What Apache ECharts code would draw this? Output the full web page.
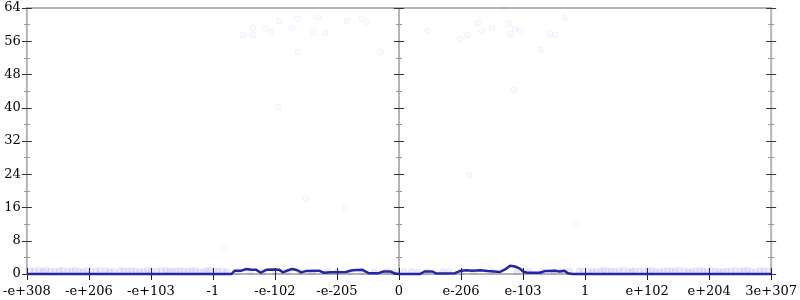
<!DOCTYPE html>
<html><head><meta charset="utf-8">
<script src="https://cdn.jsdelivr.net/npm/echarts@6/dist/echarts.min.js"></script>
<style>html,body{margin:0;padding:0;background:#fff}#c{width:800px;height:300px}</style>
</head><body><div id="c"></div>
<script>
// x positions are in tick units: 0 = -e+308 ... 6 = 0 ... 12 = 3e+307
const tickLabels = ['-e+308','-e+206','-e+103','-1','-e-102','-e-205','0','e-206','e-103','1','e+102','e+204','3e+307'];

// histogram outline (count per bin)
const lineX = [0,3.30,3.35,3.46,3.54,3.62,3.70,3.77,3.86,3.97,4.07,4.13,4.21,4.28,4.36,4.42,4.50,4.71,4.79,4.90,5.14,5.25,5.41,5.51,5.67,5.75,5.86,5.94,6.0,
               6.34,6.41,6.54,6.60,6.90,6.98,7.08,7.18,7.31,7.43,7.63,7.71,7.79,7.87,7.95,8.0,8.06,8.27,8.35,8.52,8.59,8.67,8.72,8.80,12];
const lineY = [0,0,0.8,0.8,1.2,1.0,1.0,0.3,1.0,1.1,1.0,0.4,0.9,1.2,0.9,0.4,0.7,0.8,0.3,0.4,0.5,0.9,1.0,0.2,0.2,0.6,0.6,0.1,0,
               0,0.6,0.6,0.1,0.2,0.7,0.9,0.8,0.9,0.7,0.5,1.1,2.0,1.8,1.3,0.6,0.3,0.3,0.7,0.8,0.6,0.8,0.2,0,0];

// faint sample points (high ones)
const highX = [3.48,3.64,3.65,3.86,3.94,4.07,4.28,4.36,4.37,4.63,4.69,4.81,5.16,5.40,5.48,5.70,
               6.46,6.98,7.10,7.27,7.34,7.50,7.69,7.77,7.80,7.87,7.96,8.28,8.43,8.52,8.67,7.85,
               4.05,4.50,5.14,7.13,3.17,8.86];
const highY = [57.5,59.2,57.5,59,58.2,60.9,59.2,61.4,53.4,58.2,61.8,58,60.9,61.4,60.6,53.4,
               58.5,56.5,57.5,60.4,58.5,59.2,64,60.2,57.7,59,58.5,53.9,57.7,57.5,61.6,44.3,
               40.2,18.1,15.9,23.8,6.3,12.3];
// faint sample points near zero
const lowX = [0.05,0.12,0.2,0.26,0.31,0.38,0.45,0.52,0.58,0.66,0.72,0.78,0.84,0.9,0.97,1.03,1.12,1.18,1.27,1.33,1.4,1.5,1.56,1.63,1.69,1.75,1.82,1.88,1.94,2.0,2.1,2.17,2.24,2.3,2.35,2.41,2.47,2.53,2.6,2.66,2.72,2.78,2.85,2.9,2.95,3.02,3.08,3.15,3.22,3.4,3.6,3.8,4.0,4.2,4.4,4.6,4.85,5.0,5.2,5.4,5.6,5.8,5.92,
              6.08,6.2,6.3,6.45,6.7,6.8,7.0,7.2,7.5,7.9,8.1,8.3,8.5,8.62,8.75,8.9,8.97,9.05,9.12,9.18,9.25,9.3,9.36,9.42,9.48,9.55,9.62,9.7,9.75,9.8,9.88,9.95,10.02,10.08,10.14,10.2,10.27,10.33,10.39,10.45,10.52,10.6,10.66,10.72,10.78,10.85,10.9,10.97,11.03,11.1,11.16,11.22,11.28,11.35,11.42,11.5,11.56,11.62,11.68,11.75,11.82,11.88,11.95];
const lowY = [0.8,0.7,0.9,0.6,0.9,0.7,0.6,0.8,0.9,0.7,0.8,0.9,0.6,0.6,0.8,0.8,0.7,0.9,0.8,0.6,0.6,0.9,0.7,0.7,0.8,0.8,0.6,0.6,0.9,0.8,0.7,0.8,0.9,0.7,0.6,0.8,0.8,0.7,0.7,0.9,0.8,0.6,0.6,0.8,0.9,0.7,0.7,0.8,0.6,0.5,0.5,0.4,0.4,0.5,0.5,0.4,0.6,0.5,0.4,0.6,0.5,0.6,0.5,
              0.6,0.6,0.5,0.5,0.6,0.6,0.5,0.5,0.6,0.4,0.6,0.5,0.5,0.6,0.7,0.7,0.8,0.8,0.6,0.6,0.7,0.9,0.8,0.7,0.6,0.8,0.9,0.6,0.7,0.8,0.7,0.7,0.8,0.9,0.6,0.6,0.8,0.8,0.7,0.7,0.9,0.8,0.6,0.6,0.8,0.9,0.7,0.7,0.8,0.8,0.6,0.6,0.7,0.8,0.9,0.7,0.8,0.9,0.6,0.6,0.8,0.8,0.7];

const FONT = 'DejaVu Serif';
function half(xs, ys, lo, hi){
  const out=[]; for(let i=0;i<xs.length;i++){ if(xs[i]>=lo && xs[i]<=hi) out.push([xs[i],ys[i]]); } return out;
}
function xAx(grid, lo, hi, inside, labels){
  return {type:'value', gridIndex:grid, min:lo, max:hi, interval:1, position:'bottom',
    axisLine:{show:false}, splitLine:{show:false},
    axisTick:{show:true, inside:inside, length:6, lineStyle:{color:'#222', width:1}},
    axisLabel:{show:labels, margin:11, fontFamily:FONT, fontSize:13, color:'#000',
      showMinLabel: grid===0, showMaxLabel:true,
      formatter:v=>tickLabels[Math.round(v)]}};
}
function yAx(grid, pos, inside, labels){
  return {type:'value', gridIndex:grid, position:pos, min:0, max:64, interval:8,
    axisLine:{show:false}, splitLine:{show:false},
    axisTick:{show:true, inside:inside, length:5, lineStyle:{color:'#333', width:1}},
    minorTick:{show:true, splitNumber:2, length:3, lineStyle:{color:'#999', width:1}},
    axisLabel:{show:labels, margin:6, fontFamily:FONT, fontSize:13, color:'#000'}};
}
const lineStyle = {color:'#2525a5', width:2.5};
const highStyle = {color:'rgba(80,80,240,0.035)', borderColor:'rgba(80,80,240,0.07)', borderWidth:1};
const lowStyle = {color:'rgba(80,80,240,0.12)', borderColor:'rgba(80,80,240,0.12)', borderWidth:1};
const option = {
  animation:false,
  grid:[
    {left:24, right:401, top:8, bottom:26, show:true, borderColor:'#b4b4b4', borderWidth:2},
    {left:399, right:27, top:8, bottom:26, show:true, borderColor:'#b4b4b4', borderWidth:2}
  ],
  xAxis:[ xAx(0,0,6,false,true), xAx(0,0,6,true,false), xAx(1,6,12,false,true), xAx(1,6,12,true,false) ],
  yAxis:[ yAx(0,'left',false,true), yAx(0,'left',true,false), yAx(0,'right',true,false),
          yAx(1,'left',true,false), yAx(1,'right',true,false), yAx(1,'right',false,false) ],
  series:[
    {type:'scatter', xAxisIndex:0, yAxisIndex:0, symbolSize:6, itemStyle:highStyle, data:half(highX,highY,0,6)},
    {type:'scatter', xAxisIndex:2, yAxisIndex:3, symbolSize:6, itemStyle:highStyle, data:half(highX,highY,6,12)},
    {type:'scatter', xAxisIndex:0, yAxisIndex:0, symbolSize:6, itemStyle:lowStyle, data:half(lowX,lowY,0,6)},
    {type:'scatter', xAxisIndex:2, yAxisIndex:3, symbolSize:6, itemStyle:lowStyle, data:half(lowX,lowY,6,12)},
    {type:'line', xAxisIndex:0, yAxisIndex:0, showSymbol:false, clip:false, lineStyle:lineStyle, data:half(lineX,lineY,0,6)},
    {type:'line', xAxisIndex:2, yAxisIndex:3, showSymbol:false, clip:false, lineStyle:lineStyle, data:half(lineX,lineY,6,12)}
  ]
};
echarts.init(document.getElementById('c')).setOption(option);
</script></body></html>
